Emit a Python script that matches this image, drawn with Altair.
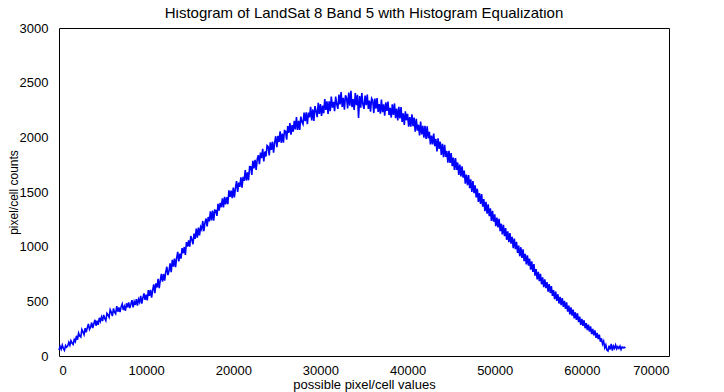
import altair as alt
import pandas as pd

# Histogram counts, one value per 125-wide bin of pixel values
counts_0_10k = [
    55, 88, 62, 100, 70, 52, 95, 80,
    92, 125, 98, 140, 118, 105, 150, 132,
    185, 149, 209, 183, 173, 242, 221, 196,
    255, 217, 259, 294, 244, 264, 306, 255,
    295, 331, 277, 324, 285, 349, 317, 356,
    320, 376, 344, 324, 390, 376, 355, 424,
    400, 365, 435, 400, 385, 457, 405, 445,
    402, 449, 476, 421, 453, 414, 482, 446,
    490, 439, 473, 511, 445, 497, 467, 521,
    460, 518, 492, 549, 480, 531, 572, 514,
]
counts_10k_20k = [
    560, 509, 602, 551, 605, 534, 602, 656,
    575, 664, 627, 706, 620, 694, 752, 681,
    750, 689, 767, 816, 740, 779, 847, 766,
    880, 817, 890, 812, 895, 952, 865, 937,
    890, 987, 940, 997, 925, 1042, 1000, 1057,
    1000, 1097, 1065, 1022, 1120, 1072, 1165, 1082,
    1175, 1102, 1180, 1157, 1235, 1142, 1220, 1257,
    1185, 1271, 1232, 1324, 1240, 1331, 1237, 1334,
    1330, 1281, 1392, 1329, 1400, 1361, 1442, 1359,
    1455, 1386, 1452, 1389, 1515, 1456, 1512, 1444,
]
counts_20k_30k = [
    1540, 1451, 1537, 1599, 1500, 1586, 1547, 1634,
    1540, 1639, 1602, 1701, 1605, 1679, 1607, 1731,
    1730, 1657, 1785, 1717, 1795, 1702, 1800, 1837,
    1755, 1860, 1810, 1895, 1780, 1870, 1825, 1925,
    1915, 1835, 1955, 1885, 1960, 1860, 1955, 2010,
    1910, 2014, 1957, 2056, 1950, 2034, 1952, 2061,
    2055, 1979, 2102, 2041, 2130, 2024, 2112, 2051,
    2150, 2072, 2185, 2067, 2150, 2067, 2190, 2142,
    2120, 2226, 2147, 2229, 2120, 2226, 2182, 2279,
    2155, 2255, 2150, 2285, 2240, 2185, 2315, 2215,
]
counts_30k_40k = [
    2305, 2195, 2290, 2220, 2350, 2250, 2330, 2215,
    2330, 2239, 2373, 2271, 2325, 2239, 2372, 2301,
    2260, 2391, 2302, 2413, 2279, 2361, 2253, 2384,
    2360, 2265, 2410, 2290, 2425, 2275, 2350, 2250,
    2405, 2294, 2389, 2178, 2378, 2272, 2406, 2301,
    2260, 2382, 2295, 2392, 2260, 2337, 2235, 2357,
    2340, 2222, 2355, 2262, 2360, 2232, 2305, 2217,
    2345, 2231, 2302, 2199, 2320, 2241, 2327, 2204,
    2270, 2181, 2302, 2204, 2310, 2176, 2262, 2154,
    2280, 2174, 2277, 2141, 2220, 2114, 2237, 2156,
]
counts_40k_50k = [
    2215, 2097, 2185, 2097, 2210, 2102, 2180, 2052,
    2170, 2062, 2115, 2017, 2145, 2027, 2105, 1997,
    2105, 1985, 2100, 1990, 2050, 1935, 2015, 1935,
    2035, 1920, 1985, 1870, 1990, 1895, 1960, 1840,
    1940, 1819, 1932, 1821, 1875, 1769, 1877, 1766,
    1855, 1737, 1815, 1702, 1810, 1702, 1770, 1657,
    1750, 1642, 1735, 1632, 1695, 1577, 1660, 1562,
    1655, 1535, 1615, 1500, 1600, 1490, 1560, 1450,
    1530, 1410, 1490, 1390, 1480, 1365, 1435, 1325,
    1410, 1301, 1387, 1279, 1350, 1236, 1327, 1229,
]
counts_50k_60k = [
    1295, 1187, 1265, 1177, 1255, 1142, 1210, 1112,
    1200, 1097, 1170, 1062, 1140, 1042, 1125, 1027,
    1090, 987, 1075, 977, 1045, 942, 1010, 912,
    995, 897, 975, 867, 935, 837, 920, 827,
    890, 790, 865, 770, 840, 735, 795, 700,
    770, 684, 752, 656, 720, 629, 702, 621,
    675, 589, 657, 576, 640, 549, 602, 521,
    590, 505, 565, 480, 540, 465, 530, 450,
    505, 430, 490, 405, 460, 380, 445, 370,
    425, 345, 400, 330, 390, 310, 360, 285,
]
counts_60k_65k = [
    340, 276, 327, 254, 300, 236, 287, 224,
    270, 201, 247, 189, 235, 166, 212, 154,
    195, 131, 162, 109, 135, 76, 102, 54,
    45, 95, 60, 110, 50, 90, 70, 100,
    65, 85, 70, 90, 60, 82, 75, 80,
    72,
]

bin_width = 125
x_ticks = [0, 10000, 20000, 30000, 40000, 50000, 60000, 70000]
y_ticks = [0, 500, 1000, 1500, 2000, 2500, 3000]

counts = (counts_0_10k + counts_10k_20k + counts_20k_30k + counts_30k_40k
          + counts_40k_50k + counts_50k_60k + counts_60k_65k)
values = [i * bin_width for i in range(len(counts))]
df = pd.DataFrame({"value": values, "count": counts})

FONT = "Liberation Sans"
BLUE = "#0000ff"

chart = alt.Chart(df).mark_line(color=BLUE, strokeWidth=1.6).encode(
    x=alt.X("value:Q",
            scale=alt.Scale(domain=[0, 70000], nice=False, zero=False),
            axis=alt.Axis(values=x_ticks, format="d", title="possible pixel/cell values",
                          grid=False, ticks=False, domain=False, labelPadding=8,
                          titlePadding=1, labelFontSize=13, titleFontSize=13,
                          titleFontWeight="normal", labelColor="black", titleColor="black",
                          labelFont=FONT, titleFont=FONT)),
    y=alt.Y("count:Q",
            scale=alt.Scale(domain=[0, 3000], nice=False),
            axis=alt.Axis(values=y_ticks, format="d", title="pixel/cell counts",
                          grid=False, ticks=False, domain=False, labelPadding=11,
                          titlePadding=-1, labelFontSize=13, titleFontSize=12,
                          titleFontWeight="normal", labelColor="black", titleColor="black",
                          labelFont=FONT, titleFont=FONT)),
).properties(
    width=610,
    height=328,
    padding={"left": 51, "top": 20, "right": 47, "bottom": 36},
    autosize=alt.AutoSizeParams(type="none"),
    title=alt.TitleParams(text="Histogram of LandSat 8 Band 5 with Histogram Equalization",
                          fontSize=15, font=FONT, fontWeight="normal", color="black",
                          offset=1, anchor="middle"),
).configure_view(stroke="black", strokeWidth=1)

chart.save("out.html", embed_options={"renderer": "svg", "actions": False})
